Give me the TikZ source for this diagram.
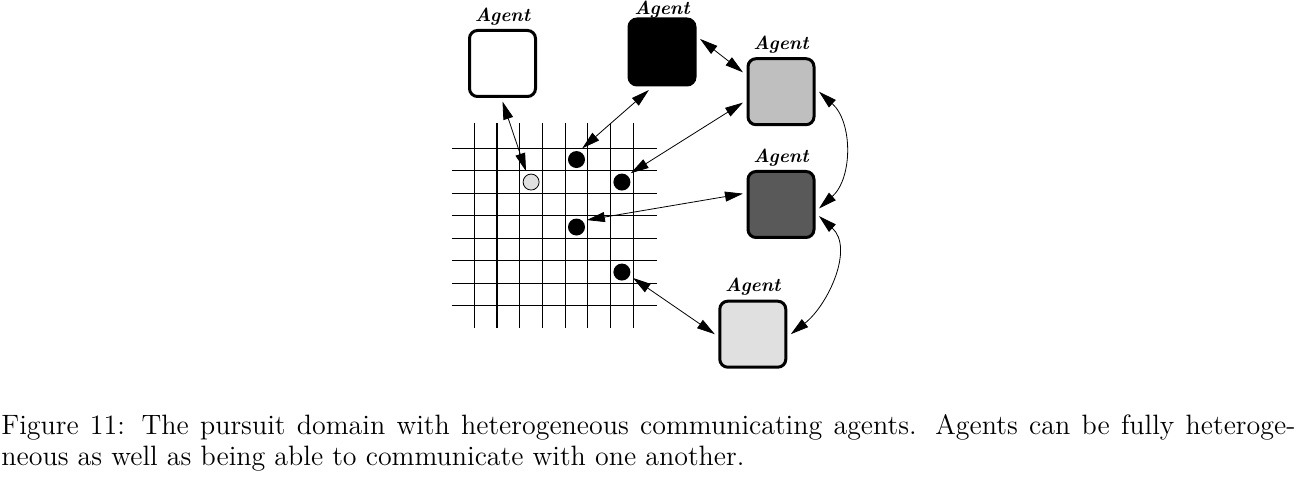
\documentclass[tikz,border=0pt]{standalone}
\usepackage{tikz}
\usetikzlibrary{arrows.meta}
\usetikzlibrary{positioning}
\tikzset{agent/.style = {draw, line width = 1.5pt, rounded corners = 4pt, minimum size = 33pt, inner sep = 0, outer sep = 2.5pt}}
\tikzset{agentlbl/.style = {font = \fontsize{9.5}{10}\selectfont\bfseries\itshape, inner sep = 0}}
\tikzset{pursuer/.style = {fill, circle, inner sep = 0, minimum size = 8.5pt, outer sep = 2pt}}
\tikzset{prey/.style = {draw, fill = black!12, circle, inner sep = 0, minimum size = 8pt, line width = 0.4pt, outer sep = 2pt}}
\tikzset{link/.style = {{Triangle[length = 9pt, width = 5pt]}-{Triangle[length = 9pt, width = 5pt]}, line width = 0.4pt}}
\tikzset{gridline/.style = {line width = 0.6pt}}
\tikzset{caption/.style = {font = \fontsize{14}{15.5}\selectfont, align = justify, text width = 647pt, inner sep = 0}}

\begin{document}
\begin{tikzpicture}[x = 0.5pt, y = 0.5pt]

    \useasboundingbox (0, 0) rectangle (1298, -481);

    % the grid
    \foreach \i in {0,...,7}
      \draw [gridline] ({474.3 + 22.7*\i}, -123) -- ({474.3 + 22.7*\i}, -328);
    \foreach \j in {0,...,7}
      \draw [gridline] (452, {-148.3 - 22.5*\j}) -- (657, {-148.3 - 22.5*\j});

    \node [pursuer] (p1) at (576.5, -159.55) {};
    \node [pursuer] (p2) at (621.9, -182.05) {};
    \node [pursuer] (p3) at (576.5, -227.05) {};
    \node [pursuer] (p4) at (621.9, -272.05) {};
    \node [prey] (prey) at (531.1, -182.05) {};

    % the agents
    \node [agent, fill = white] (wht) at (502.5, -63.5) {};
    \node [agent, fill = black] (blk) at (662, -52) {};
    \node [agent, fill = black!25] (ltg) at (781, -91.7) {};
    \node [agent, fill = black!65] (dkg) at (781, -204.5) {};
    \node [agent, fill = black!12] (pal) at (752.8, -334.2) {};

    \node [agentlbl, above = 0pt of wht] (wht lbl) {Agent};
    \node [agentlbl, above = -2.2pt of blk] (blk lbl) {Agent};
    \node [agentlbl, above = 0pt of ltg] (ltg lbl) {Agent};
    \node [agentlbl, above = 0pt of dkg] (dkg lbl) {Agent};
    \node [agentlbl, above = 0pt of pal] (pal lbl) {Agent};

    \draw [link] (wht.south) -- (prey.115);
    \draw [link] (blk.-109) -- (p1.63);
    \draw [link] (blk.19) -- (ltg.153);
    \draw [link] (ltg.196) -- (p2.45);
    \draw [link] (ltg.east) to [out = -42, in = 42] (dkg.-6);
    \draw [link] (dkg.164) -- (p3.34);
    \draw [link] (dkg.-17) to [out = -42, in = 38] (pal.east);
    \draw [link] (p4.-28) -- (pal.west);

    \node [caption, anchor = north west] (cap) at (1, -414) {Figure 11: The pursuit domain with heterogeneous communicating agents. Agents can be fully heteroge-\linebreak neous as well as being able to communicate with one another.};
  \end{tikzpicture}
\end{document}
